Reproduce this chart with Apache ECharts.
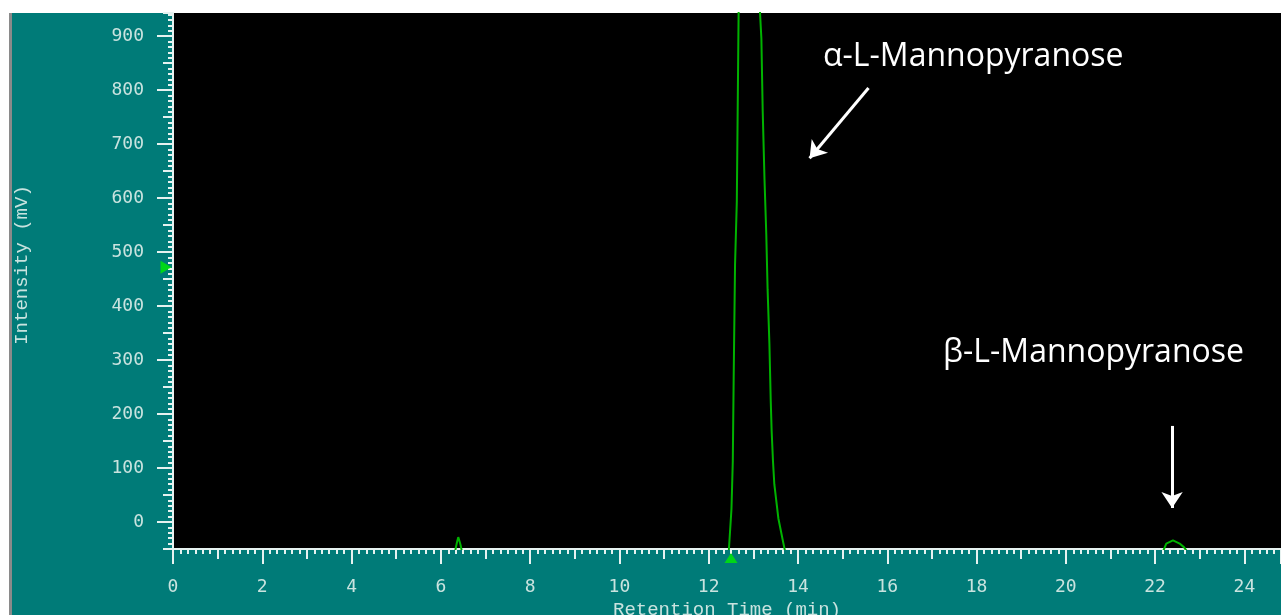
<!DOCTYPE html>
<html>
<head>
<meta charset="utf-8">
<script src="https://cdn.jsdelivr.net/npm/echarts@6/dist/echarts.min.js"></script>
<style>
html,body{margin:0;padding:0;background:#fff;}
#c{width:1281px;height:615px;}
</style>
</head>
<body>
<div id="c"></div>
<script>
// ---- data ----
const retentionTime = [0, 6.32, 6.36, 6.39, 6.42, 6.44, 6.47,
  12.45, 12.51, 12.54, 12.56, 12.59, 12.63, 12.67, 12.70, 12.90,
  13.12, 13.15, 13.18, 13.21, 13.25, 13.29, 13.32, 13.36, 13.39, 13.41, 13.44, 13.47, 13.56, 13.65, 13.71,
  22.18, 22.25, 22.40, 22.55, 22.65, 22.71, 24.82];
const intensity = [-54, -54, -38, -28, -36, -42, -54,
  -54, 24, 113, 270, 476, 594, 943, 1100, 2600,
  1100, 943, 896, 761, 635, 533, 430, 330, 224, 169, 113, 70, 7, -30, -54,
  -54, -40, -34, -40, -47, -54, -54];
const xTickLabels = [0, 2, 4, 6, 8, 10, 12, 14, 16, 18, 20, 22, 24];
const yTickLabels = [0, 100, 200, 300, 400, 500, 600, 700, 800, 900];
const injectMark = [[12.5, -50]];
const levelMark = [[0, 472]];
const peakNames = ['α-L-Mannopyranose', 'β-L-Mannopyranose'];
const arrowFrom = [[15.58, 804], [22.38, 178]];
const arrowTo = [[14.26, 674], [22.38, 26]];

const series = retentionTime.map((t, i) => [t, intensity[i]]);
const LBL = '#c9e3df';
const TICK = '#e6f2f0';

const chart = echarts.init(document.getElementById('c'), null, {renderer: 'canvas'});

const yMin = -50, yMax = 943, xMin = 0, xMax = 24.82;

const option = {
  backgroundColor: '#ffffff',
  animation: false,
  graphic: [
    {type: 'rect', z: -10, shape: {x: 12, y: 13, width: 1269, height: 602}, style: {fill: '#007b78'}, silent: true},
    {type: 'rect', z: -10, shape: {x: 9, y: 13, width: 3, height: 602}, style: {fill: '#8a8a8a'}, silent: true},
    {type: 'text', z: 10, x: 22, y: 265, rotation: Math.PI / 2,
      style: {text: 'Intensity (mV)', fill: LBL, font: '19px "Liberation Mono"', align: 'center', verticalAlign: 'middle'}},
    {type: 'text', z: 10, left: 823, top: 41,
      style: {text: peakNames[0], fill: '#ffffff', font: '32px "Open Sans"'}},
    {type: 'text', z: 10, left: 943, top: 337,
      style: {text: peakNames[1], fill: '#ffffff', font: '32px "Open Sans"'}}
  ],
  grid: {left: 173, right: 0, top: 13, bottom: 66, show: true, backgroundColor: '#000000', borderWidth: 0,
    containLabel: false, outerBoundsMode: 'none'},
  xAxis: [
    {
      type: 'value', position: 'bottom', min: xMin, max: xMax, interval: 2,
      axisLine: {show: true, onZero: false, lineStyle: {color: TICK, width: 2}},
      axisTick: {show: true, length: 15, lineStyle: {color: TICK, width: 2}},
      minorTick: {show: true, splitNumber: 12, length: 5, lineStyle: {color: TICK, width: 2}},
      splitLine: {show: false},
      axisLabel: {show: true, margin: 29, color: LBL, fontFamily: 'DejaVu Sans Mono', fontSize: 18,
        customValues: xTickLabels, showMinLabel: true, showMaxLabel: true},
      name: 'Retention Time (min)', nameLocation: 'middle', nameGap: 49,
      nameTextStyle: {color: LBL, fontFamily: 'Liberation Mono', fontSize: 19, verticalAlign: 'top'}
    },
    {
      type: 'value', position: 'bottom', offset: 0, min: xMin, max: xMax, interval: 1,
      axisLine: {show: false, onZero: false},
      axisTick: {show: true, length: 10, lineStyle: {color: TICK, width: 2}},
      axisLabel: {show: false}, splitLine: {show: false}
    }
  ],
  yAxis: [
    {
      type: 'value', position: 'left', min: yMin, max: yMax, interval: 50,
      axisLine: {show: true, onZero: false, lineStyle: {color: TICK, width: 2}},
      axisTick: {show: true, length: 10, lineStyle: {color: TICK, width: 2}},
      minorTick: {show: true, splitNumber: 5, length: 5, lineStyle: {color: TICK, width: 2}},
      splitLine: {show: false},
      axisLabel: {show: true, margin: 29, color: LBL, fontFamily: 'DejaVu Sans Mono', fontSize: 18,
        customValues: yTickLabels}
    },
    {
      type: 'value', position: 'left', offset: 0, min: yMin, max: yMax, interval: 50,
      axisLine: {show: false, onZero: false},
      axisTick: {show: true, length: 16, customValues: yTickLabels, lineStyle: {color: TICK, width: 2}},
      axisLabel: {show: false}, splitLine: {show: false}
    }
  ],
  series: [
    {
      type: 'line', data: series, showSymbol: false, symbol: 'none', clip: true,
      lineStyle: {color: '#00b300', width: 2}, z: 3,
      markLine: {
        silent: true, symbol: ['none', 'arrow'], symbolSize: 16,
        lineStyle: {color: '#ffffff', width: 3, type: 'solid'},
        itemStyle: {color: '#ffffff'},
        label: {show: false},
        data: arrowFrom.map((p, i) => [{coord: p}, {coord: arrowTo[i]}])
      }
    },
    {
      type: 'scatter', data: injectMark, symbol: 'triangle', symbolSize: [13, 10],
      symbolOffset: [0, 9], clip: false, z: 5, itemStyle: {color: '#00ee00'}
    },
    {
      type: 'scatter', data: levelMark, symbol: 'triangle', symbolSize: [13, 11],
      symbolRotate: -90, symbolOffset: [-7, 0], clip: false, z: 5, itemStyle: {color: '#00ee00'}
    }
  ]
};
chart.setOption(option);
</script>
</body>
</html>
